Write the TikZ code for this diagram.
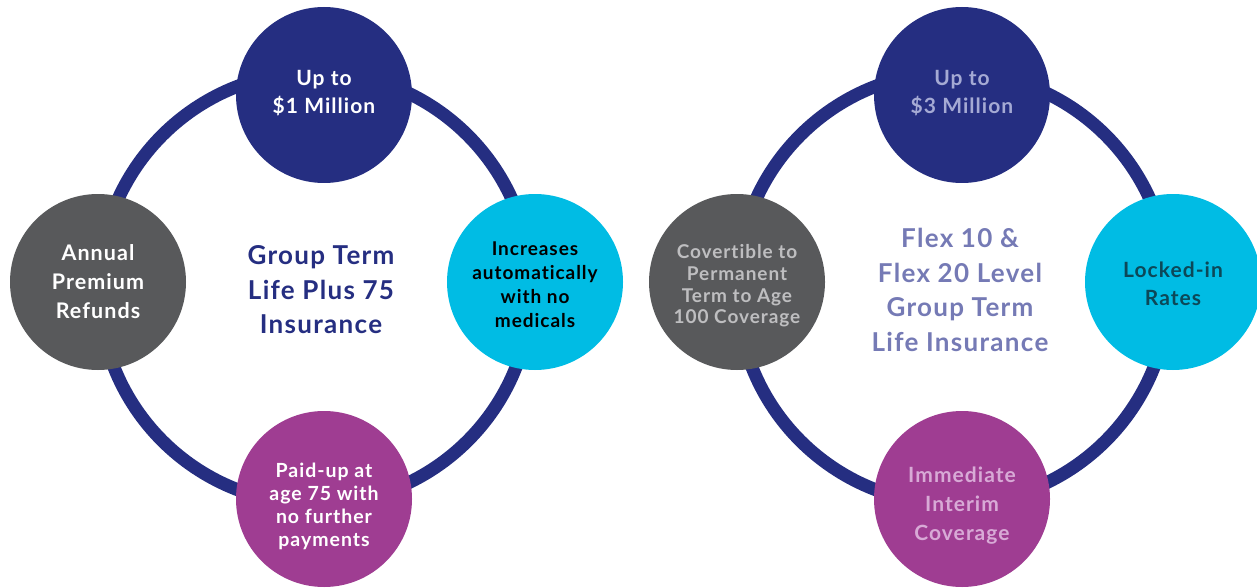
\documentclass[tikz,border=0pt]{standalone}
\usepackage{fontspec}
\setmainfont{Lato}[Ligatures=NoCommon,LetterSpace=5]

\definecolor{ringblue}{RGB}{37,46,129}
\definecolor{darkgrey}{RGB}{88,89,91}
\definecolor{skyblue}{RGB}{0,188,228}
\definecolor{plum}{RGB}{159,61,146}
\definecolor{lavender}{RGB}{117,122,181}
\definecolor{palelav}{RGB}{165,170,212}
\definecolor{palegrey}{RGB}{190,190,192}
\definecolor{deepteal}{RGB}{12,72,88}
\definecolor{palepink}{RGB}{216,170,214}

\begin{document}
\begin{tikzpicture}[x=1pt,y=-1pt,
    ring/.style={draw=ringblue,line width=13pt},
    bubble/.style={circle,minimum size=176pt,inner sep=0pt},
    blurb/.style={align=center,inner sep=0pt,font=\bfseries\fontsize{21}{28}\selectfont},
    title/.style={align=center,font=\bfseries\fontsize{26}{34.5}\selectfont}]
      \useasboundingbox (0,0) rectangle (1257,588);

      % rings
      \coordinate (ringA) at (315,288);
      \coordinate (ringB) at (953,288);
      \draw[ring] (ringA) circle (216);
      \draw[ring] (ringB) circle (216);

      % left: group term life plus 75
      \node[bubble,fill=ringblue](upA) at (324,95){};
      \node[bubble,fill=darkgrey](refundA) at (98,282){};
      \node[bubble,fill=skyblue](autoA) at (535,282){};
      \node[bubble,fill=plum](paidA) at (324,499){};

      \node[blurb,text=white](upAtext) at (324,93){Up to\\\$1 Million};
      \node[blurb,text=white,font=\bfseries\fontsize{21.5}{29}\selectfont](refundAtext) at (98,282){Annual\\Premium\\Refunds};
      \node[blurb,text=black,font=\bfseries\fontsize{19}{24}\selectfont](autoAtext) at (535,285){Increases\\automatically\\with no\\medicals};
      \node[blurb,text=white,font=\bfseries\fontsize{19.5}{23}\selectfont](paidAtext) at (324,506){Paid-up at\\age 75 with\\no further\\payments};
      \node[title,text=ringblue](titleA) at (321,290){Group Term\\Life Plus 75\\Insurance};

      % right: flex 10 & flex 20
      \node[bubble,fill=ringblue](upB) at (962,95){};
      \node[bubble,fill=darkgrey](convB) at (737,282){};
      \node[bubble,fill=skyblue](lockB) at (1173,282){};
      \node[bubble,fill=plum](interimB) at (962,499){};

      \node[blurb,text=palelav](upBtext) at (962,93){Up to\\\$3 Million};
      \node[blurb,text=palegrey,font=\bfseries\fontsize{19}{21.7}\selectfont](convBtext) at (737,286){Covertible to\\Permanent\\Term to Age\\100 Coverage};
      \node[blurb,text=deepteal](lockBtext) at (1173,284){Locked-in\\Rates};
      \node[blurb,text=palepink,font=\bfseries\fontsize{21}{29}\selectfont](interimBtext) at (962,506){Immediate\\Interim\\Coverage};
      \node[title,text=lavender](titleB) at (960,290){Flex 10 \&\\Flex 20 Level\\Group Term\\Life Insurance};
    \end{tikzpicture}
\end{document}
